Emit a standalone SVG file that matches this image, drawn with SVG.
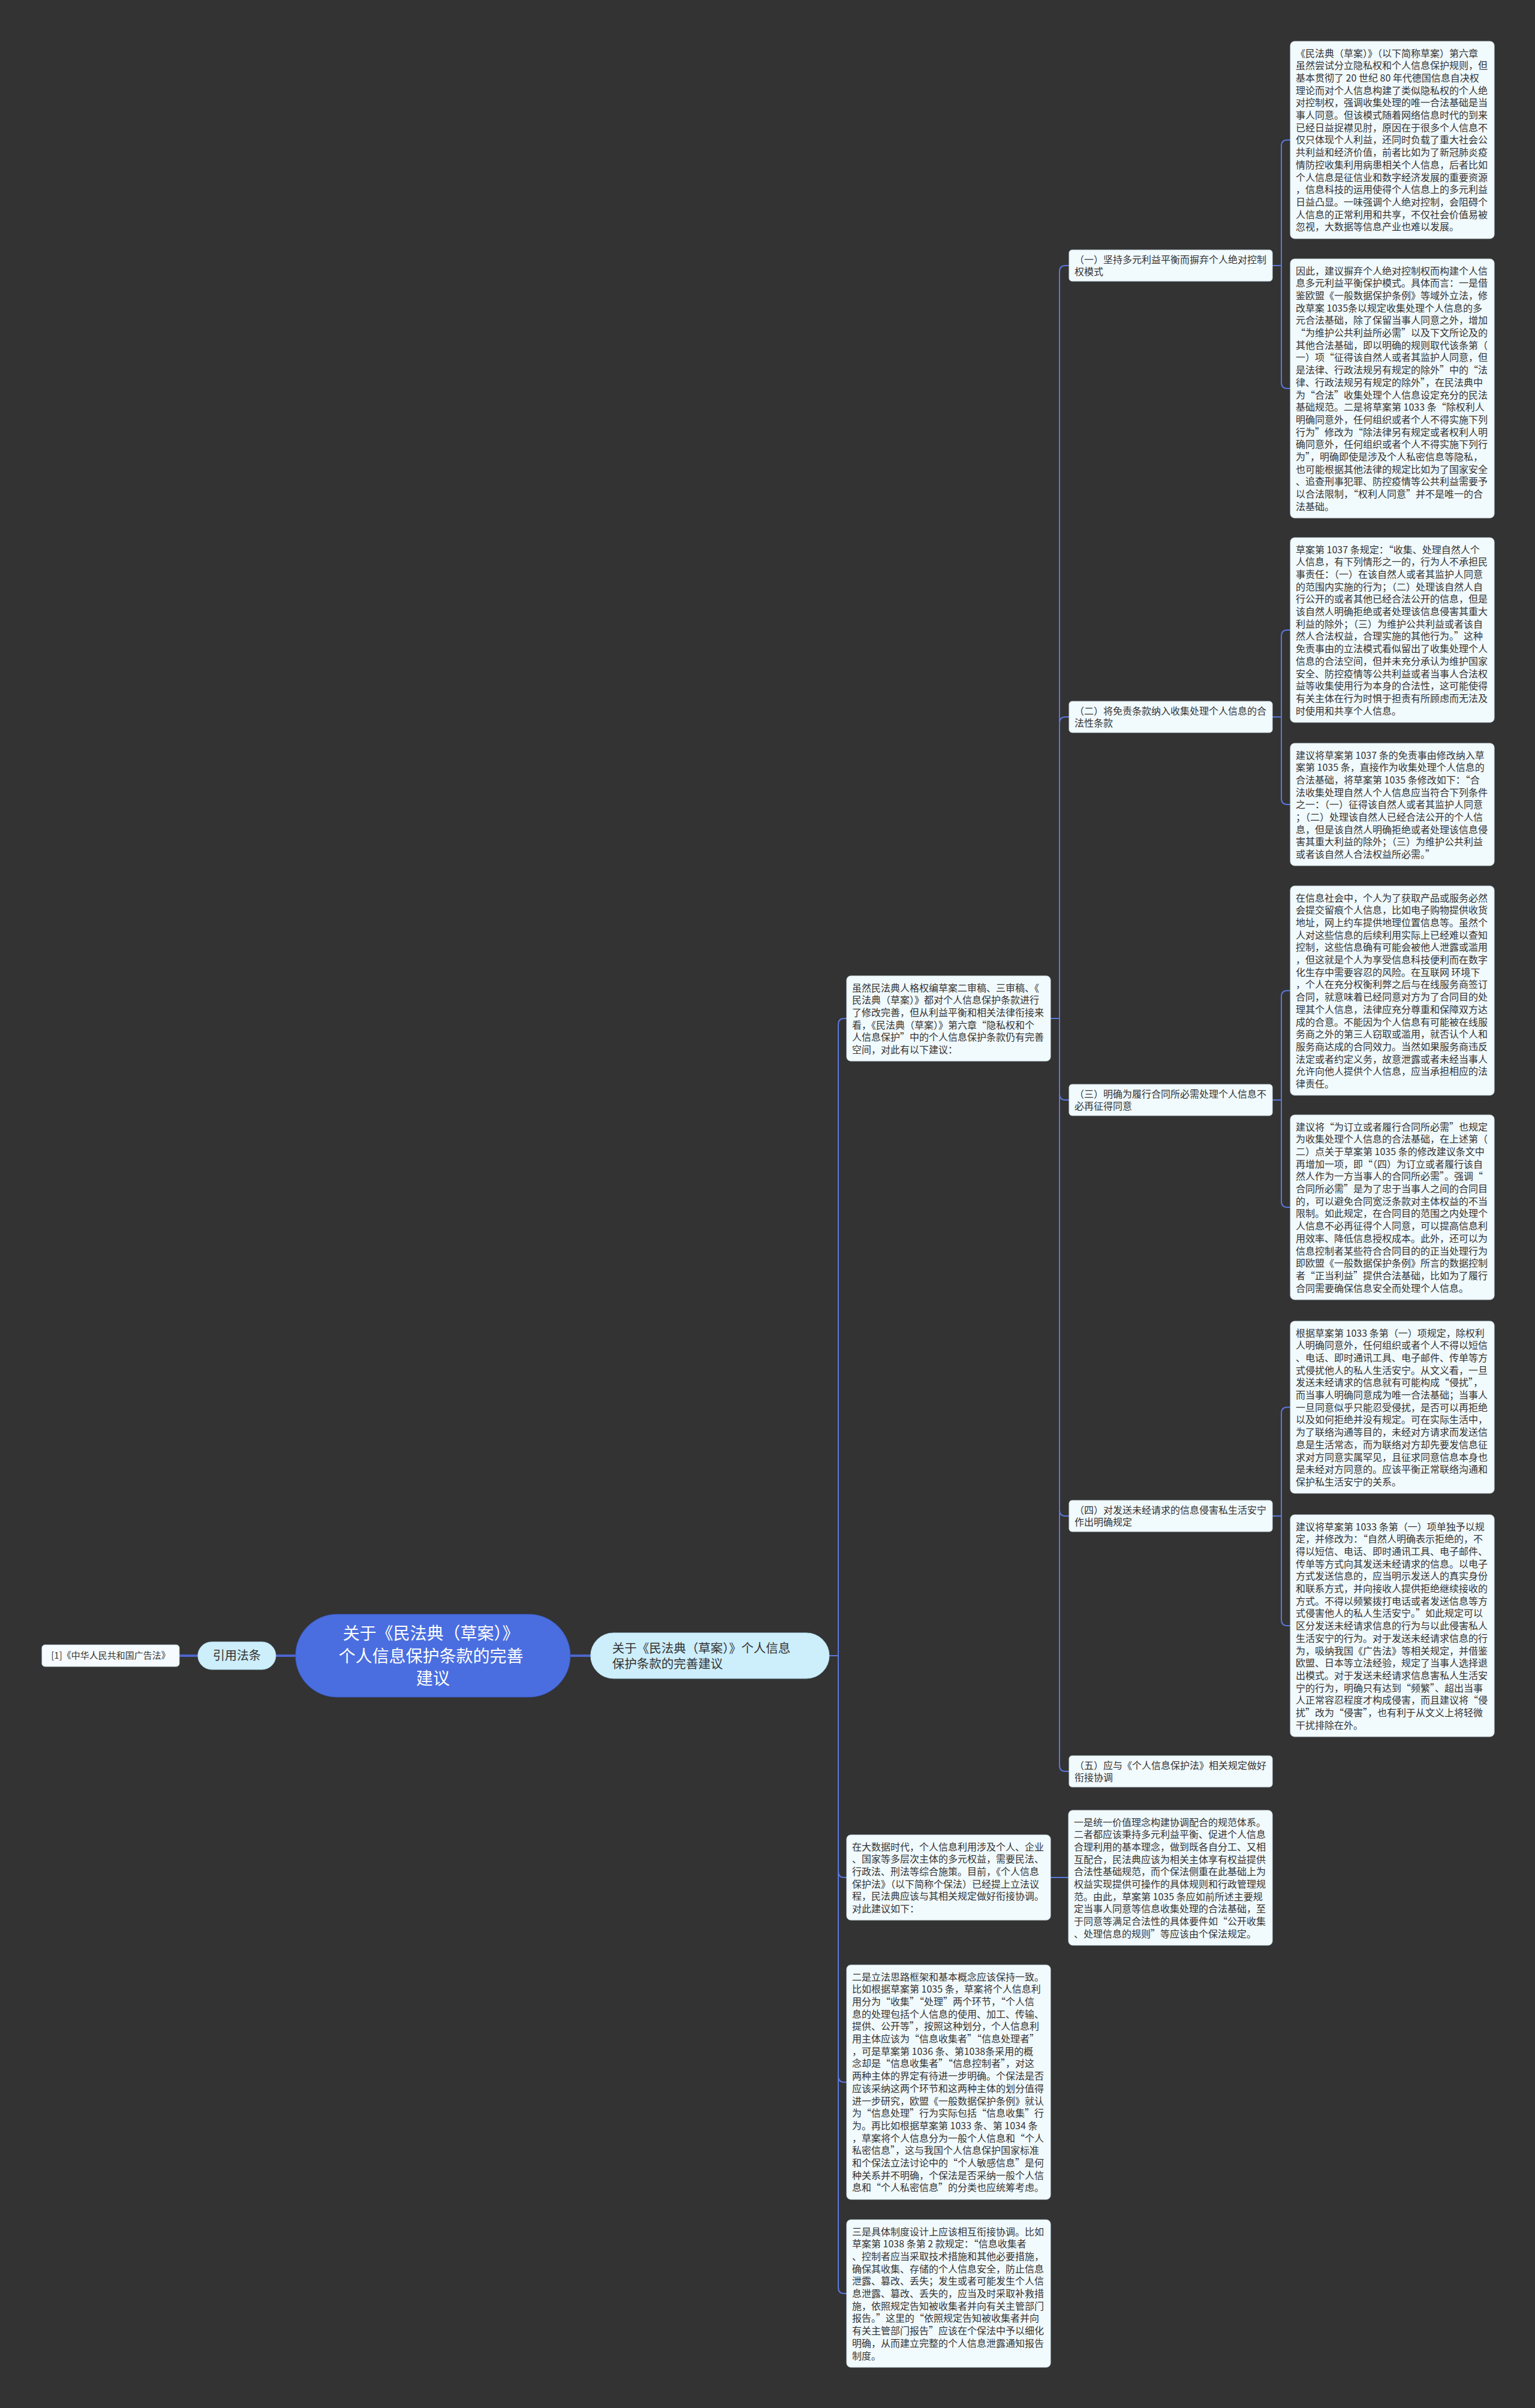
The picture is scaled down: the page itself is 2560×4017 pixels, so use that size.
<svg xmlns="http://www.w3.org/2000/svg" width="2560" height="4017" viewBox="0 0 2560 4017">
<style>
.bg{fill:#333333}
.box{fill:#f1fafd;stroke:#d6e4ea;stroke-width:1}
.t{font-family:"Noto Sans CJK SC","Noto Sans",sans-serif;font-size:16px;fill:#333333}
.conn{fill:none;stroke:#5a78dc;stroke-width:2}
.thick{fill:none;stroke:#4c66cf;stroke-width:4}
.pill{fill:#cdeefb;stroke:#b5dff0;stroke-width:1}
</style>
<rect class="bg" x="0" y="0" width="2560" height="4017"/>
<g id="connectors">
<path class="thick" d="M299 2762 H330"/>
<path class="thick" d="M460 2762 H493"/>
<path class="thick" d="M951 2762 H985"/>
<path class="conn" d="M1383 2762 H1398 V1709 Q1398 1699 1408 1699 H1412"/>
<path class="conn" d="M1383 2762 H1398 V3122 Q1398 3132 1408 3132 H1412"/>
<path class="conn" d="M1383 2762 H1398 V3463.5 Q1398 3473.5 1408 3473.5 H1412"/>
<path class="conn" d="M1383 2762 H1398 V3816 Q1398 3826 1408 3826 H1412"/>
<path class="conn" d="M1752 1699 H1767 V453 Q1767 443 1777 443 H1783"/>
<path class="conn" d="M1752 1699 H1767 V1206 Q1767 1196 1777 1196 H1783"/>
<path class="conn" d="M1752 1699 H1767 V1825 Q1767 1835 1777 1835 H1783"/>
<path class="conn" d="M1752 1699 H1767 V2519 Q1767 2529 1777 2529 H1783"/>
<path class="conn" d="M1752 1699 H1767 V2945 Q1767 2955 1777 2955 H1783"/>
<path class="conn" d="M1752 3132 H1782"/>
<path class="conn" d="M2122 443 H2137 V243.5 Q2137 233.5 2147 233.5 H2152"/>
<path class="conn" d="M2122 443 H2137 V638 Q2137 648 2147 648 H2152"/>
<path class="conn" d="M2122 1196 H2137 V1061 Q2137 1051 2147 1051 H2152"/>
<path class="conn" d="M2122 1196 H2137 V1332 Q2137 1342 2147 1342 H2152"/>
<path class="conn" d="M2122 1835 H2137 V1662.5 Q2137 1652.5 2147 1652.5 H2152"/>
<path class="conn" d="M2122 1835 H2137 V2004 Q2137 2014 2147 2014 H2152"/>
<path class="conn" d="M2122 2529 H2137 V2357.5 Q2137 2347.5 2147 2347.5 H2152"/>
<path class="conn" d="M2122 2529 H2137 V2702 Q2137 2712 2147 2712 H2152"/>
</g>

<g id="root">
<rect x="493" y="2693" width="458" height="138" rx="69" fill="#4a6ee0" stroke="#3d5fd0" stroke-width="1"/>
<text font-family="Noto Sans CJK SC, Noto Sans, sans-serif" font-size="28" fill="#ffffff" text-anchor="middle">
<tspan x="722" y="2735">关于《民法典（草案）》</tspan>
<tspan x="722" y="2773">个人信息保护条款的完善</tspan>
<tspan x="722" y="2810">建议</tspan>
</text>
</g>

<g id="cite">
<rect class="pill" x="330" y="2739" width="130" height="46" rx="23"/>
<text x="395" y="2769" font-family="Noto Sans CJK SC, Noto Sans, sans-serif" font-size="20" fill="#333333" text-anchor="middle">引用法条</text>
</g>

<g id="cite-1">
<rect x="70" y="2744" width="229" height="36" rx="5" fill="#f5fbfe" stroke="#d6e4ea" stroke-width="1"/>
<text x="184.5" y="2767" font-family="Noto Sans CJK SC, Noto Sans, sans-serif" font-size="15" fill="#333333" text-anchor="middle">[1]《中华人民共和国广告法》</text>
</g>

<g id="main-branch">
<rect class="pill" x="985" y="2724" width="398" height="76" rx="38"/>
<text font-family="Noto Sans CJK SC, Noto Sans, sans-serif" font-size="20.5" fill="#333333">
<tspan x="1021" y="2757">关于《民法典（草案）》个人信息</tspan>
<tspan x="1021" y="2783">保护条款的完善建议</tspan>
</text>
</g>

<g id="intro">
<rect class="box" x="1412" y="1628" width="340" height="142" rx="7"/>
<text class="t">
<tspan x="1421" y="1653.5">虽然民法典人格权编草案二审稿、三审稿、《</tspan>
<tspan x="1421" dy="20.7">民法典（草案）》都对个人信息保护条款进行</tspan>
<tspan x="1421" dy="20.7">了修改完善，但从利益平衡和相关法律衔接来</tspan>
<tspan x="1421" dy="20.7">看，《民法典（草案）》第六章“隐私权和个</tspan>
<tspan x="1421" dy="20.7">人信息保护”中的个人信息保护条款仍有完善</tspan>
<tspan x="1421" dy="20.7">空间，对此有以下建议：</tspan>
</text>
</g>

<g id="label-1">
<rect class="box" x="1783" y="417" width="339" height="52" rx="5"/>
<text class="t"><tspan x="1792" y="438.5">（一）坚持多元利益平衡而摒弃个人绝对控制</tspan><tspan x="1792" dy="20.7">权模式</tspan></text>
</g>
<g id="label-2">
<rect class="box" x="1783" y="1170" width="339" height="52" rx="5"/>
<text class="t"><tspan x="1792" y="1191.5">（二）将免责条款纳入收集处理个人信息的合</tspan><tspan x="1792" dy="20.7">法性条款</tspan></text>
</g>
<g id="label-3">
<rect class="box" x="1783" y="1809" width="339" height="52" rx="5"/>
<text class="t"><tspan x="1792" y="1830.5">（三）明确为履行合同所必需处理个人信息不</tspan><tspan x="1792" dy="20.7">必再征得同意</tspan></text>
</g>
<g id="label-4">
<rect class="box" x="1783" y="2503" width="339" height="52" rx="5"/>
<text class="t"><tspan x="1792" y="2524.5">（四）对发送未经请求的信息侵害私生活安宁</tspan><tspan x="1792" dy="20.7">作出明确规定</tspan></text>
</g>
<g id="label-5">
<rect class="box" x="1783" y="2929" width="339" height="52" rx="5"/>
<text class="t"><tspan x="1792" y="2950.5">（五）应与《个人信息保护法》相关规定做好</tspan><tspan x="1792" dy="20.7">衔接协调</tspan></text>
</g>

<g id="text-a">
<rect class="box" x="2152" y="69" width="340" height="329" rx="7"/>
<text class="t">
<tspan x="2161" y="94.5">《民法典（草案）》（以下简称草案）第六章</tspan>
<tspan x="2161" dy="20.7">虽然尝试分立隐私权和个人信息保护规则，但</tspan>
<tspan x="2161" dy="20.7">基本贯彻了 20 世纪 80 年代德国信息自决权</tspan>
<tspan x="2161" dy="20.7">理论而对个人信息构建了类似隐私权的个人绝</tspan>
<tspan x="2161" dy="20.7">对控制权，强调收集处理的唯一合法基础是当</tspan>
<tspan x="2161" dy="20.7">事人同意。但该模式随着网络信息时代的到来</tspan>
<tspan x="2161" dy="20.7">已经日益捉襟见肘，原因在于很多个人信息不</tspan>
<tspan x="2161" dy="20.7">仅只体现个人利益，还同时负载了重大社会公</tspan>
<tspan x="2161" dy="20.7">共利益和经济价值，前者比如为了新冠肺炎疫</tspan>
<tspan x="2161" dy="20.7">情防控收集利用病患相关个人信息，后者比如</tspan>
<tspan x="2161" dy="20.7">个人信息是征信业和数字经济发展的重要资源</tspan>
<tspan x="2161" dy="20.7">，信息科技的运用使得个人信息上的多元利益</tspan>
<tspan x="2161" dy="20.7">日益凸显。一味强调个人绝对控制，会阻碍个</tspan>
<tspan x="2161" dy="20.7">人信息的正常利用和共享，不仅社会价值易被</tspan>
<tspan x="2161" dy="20.7">忽视，大数据等信息产业也难以发展。</tspan>
</text>
</g>

<g id="text-b">
<rect class="box" x="2152" y="432" width="340" height="432" rx="7"/>
<text class="t">
<tspan x="2161" y="457.5">因此，建议摒弃个人绝对控制权而构建个人信</tspan>
<tspan x="2161" dy="20.7">息多元利益平衡保护模式。具体而言：一是借</tspan>
<tspan x="2161" dy="20.7">鉴欧盟《一般数据保护条例》等域外立法，修</tspan>
<tspan x="2161" dy="20.7">改草案 1035条以规定收集处理个人信息的多</tspan>
<tspan x="2161" dy="20.7">元合法基础，除了保留当事人同意之外，增加</tspan>
<tspan x="2161" dy="20.7">“为维护公共利益所必需”以及下文所论及的</tspan>
<tspan x="2161" dy="20.7">其他合法基础，即以明确的规则取代该条第（</tspan>
<tspan x="2161" dy="20.7">一）项“征得该自然人或者其监护人同意，但</tspan>
<tspan x="2161" dy="20.7">是法律、行政法规另有规定的除外”中的“法</tspan>
<tspan x="2161" dy="20.7">律、行政法规另有规定的除外”，在民法典中</tspan>
<tspan x="2161" dy="20.7">为“合法”收集处理个人信息设定充分的民法</tspan>
<tspan x="2161" dy="20.7">基础规范。二是将草案第 1033 条“除权利人</tspan>
<tspan x="2161" dy="20.7">明确同意外，任何组织或者个人不得实施下列</tspan>
<tspan x="2161" dy="20.7">行为”修改为“除法律另有规定或者权利人明</tspan>
<tspan x="2161" dy="20.7">确同意外，任何组织或者个人不得实施下列行</tspan>
<tspan x="2161" dy="20.7">为”，明确即使是涉及个人私密信息等隐私，</tspan>
<tspan x="2161" dy="20.7">也可能根据其他法律的规定比如为了国家安全</tspan>
<tspan x="2161" dy="20.7">、追查刑事犯罪、防控疫情等公共利益需要予</tspan>
<tspan x="2161" dy="20.7">以合法限制，“权利人同意”并不是唯一的合</tspan>
<tspan x="2161" dy="20.7">法基础。</tspan>
</text>
</g>

<g id="text-c">
<rect class="box" x="2152" y="897" width="340" height="308" rx="7"/>
<text class="t">
<tspan x="2161" y="922.5">草案第 1037 条规定：“收集、处理自然人个</tspan>
<tspan x="2161" dy="20.7">人信息，有下列情形之一的，行为人不承担民</tspan>
<tspan x="2161" dy="20.7">事责任：（一）在该自然人或者其监护人同意</tspan>
<tspan x="2161" dy="20.7">的范围内实施的行为；（二）处理该自然人自</tspan>
<tspan x="2161" dy="20.7">行公开的或者其他已经合法公开的信息，但是</tspan>
<tspan x="2161" dy="20.7">该自然人明确拒绝或者处理该信息侵害其重大</tspan>
<tspan x="2161" dy="20.7">利益的除外；（三）为维护公共利益或者该自</tspan>
<tspan x="2161" dy="20.7">然人合法权益，合理实施的其他行为。”这种</tspan>
<tspan x="2161" dy="20.7">免责事由的立法模式看似留出了收集处理个人</tspan>
<tspan x="2161" dy="20.7">信息的合法空间，但并未充分承认为维护国家</tspan>
<tspan x="2161" dy="20.7">安全、防控疫情等公共利益或者当事人合法权</tspan>
<tspan x="2161" dy="20.7">益等收集使用行为本身的合法性，这可能使得</tspan>
<tspan x="2161" dy="20.7">有关主体在行为时惧于担责有所顾虑而无法及</tspan>
<tspan x="2161" dy="20.7">时使用和共享个人信息。</tspan>
</text>
</g>

<g id="text-d">
<rect class="box" x="2152" y="1240" width="340" height="204" rx="7"/>
<text class="t">
<tspan x="2161" y="1265.5">建议将草案第 1037 条的免责事由修改纳入草</tspan>
<tspan x="2161" dy="20.7">案第 1035 条，直接作为收集处理个人信息的</tspan>
<tspan x="2161" dy="20.7">合法基础，将草案第 1035 条修改如下：“合</tspan>
<tspan x="2161" dy="20.7">法收集处理自然人个人信息应当符合下列条件</tspan>
<tspan x="2161" dy="20.7">之一：（一）征得该自然人或者其监护人同意</tspan>
<tspan x="2161" dy="20.7">；（二）处理该自然人已经合法公开的个人信</tspan>
<tspan x="2161" dy="20.7">息，但是该自然人明确拒绝或者处理该信息侵</tspan>
<tspan x="2161" dy="20.7">害其重大利益的除外；（三）为维护公共利益</tspan>
<tspan x="2161" dy="20.7">或者该自然人合法权益所必需。”</tspan>
</text>
</g>

<g id="text-e">
<rect class="box" x="2152" y="1478" width="340" height="349" rx="7"/>
<text class="t">
<tspan x="2161" y="1503.5">在信息社会中，个人为了获取产品或服务必然</tspan>
<tspan x="2161" dy="20.7">会提交留痕个人信息，比如电子购物提供收货</tspan>
<tspan x="2161" dy="20.7">地址，网上约车提供地理位置信息等。虽然个</tspan>
<tspan x="2161" dy="20.7">人对这些信息的后续利用实际上已经难以查知</tspan>
<tspan x="2161" dy="20.7">控制，这些信息确有可能会被他人泄露或滥用</tspan>
<tspan x="2161" dy="20.7">，但这就是个人为享受信息科技便利而在数字</tspan>
<tspan x="2161" dy="20.7">化生存中需要容忍的风险。在互联网 环境下</tspan>
<tspan x="2161" dy="20.7">，个人在充分权衡利弊之后与在线服务商签订</tspan>
<tspan x="2161" dy="20.7">合同，就意味着已经同意对方为了合同目的处</tspan>
<tspan x="2161" dy="20.7">理其个人信息，法律应充分尊重和保障双方达</tspan>
<tspan x="2161" dy="20.7">成的合意。不能因为个人信息有可能被在线服</tspan>
<tspan x="2161" dy="20.7">务商之外的第三人窃取或滥用，就否认个人和</tspan>
<tspan x="2161" dy="20.7">服务商达成的合同效力。当然如果服务商违反</tspan>
<tspan x="2161" dy="20.7">法定或者约定义务，故意泄露或者未经当事人</tspan>
<tspan x="2161" dy="20.7">允许向他人提供个人信息，应当承担相应的法</tspan>
<tspan x="2161" dy="20.7">律责任。</tspan>
</text>
</g>

<g id="text-f">
<rect class="box" x="2152" y="1860" width="340" height="308" rx="7"/>
<text class="t">
<tspan x="2161" y="1885.5">建议将“为订立或者履行合同所必需”也规定</tspan>
<tspan x="2161" dy="20.7">为收集处理个人信息的合法基础，在上述第（</tspan>
<tspan x="2161" dy="20.7">二）点关于草案第 1035 条的修改建议条文中</tspan>
<tspan x="2161" dy="20.7">再增加一项，即“（四）为订立或者履行该自</tspan>
<tspan x="2161" dy="20.7">然人作为一方当事人的合同所必需”。强调“</tspan>
<tspan x="2161" dy="20.7">合同所必需”是为了忠于当事人之间的合同目</tspan>
<tspan x="2161" dy="20.7">的，可以避免合同宽泛条款对主体权益的不当</tspan>
<tspan x="2161" dy="20.7">限制。如此规定，在合同目的范围之内处理个</tspan>
<tspan x="2161" dy="20.7">人信息不必再征得个人同意，可以提高信息利</tspan>
<tspan x="2161" dy="20.7">用效率、降低信息授权成本。此外，还可以为</tspan>
<tspan x="2161" dy="20.7">信息控制者某些符合合同目的的正当处理行为</tspan>
<tspan x="2161" dy="20.7">即欧盟《一般数据保护条例》所言的数据控制</tspan>
<tspan x="2161" dy="20.7">者“正当利益”提供合法基础，比如为了履行</tspan>
<tspan x="2161" dy="20.7">合同需要确保信息安全而处理个人信息。</tspan>
</text>
</g>

<g id="text-g">
<rect class="box" x="2152" y="2204" width="340" height="287" rx="7"/>
<text class="t">
<tspan x="2161" y="2229.5">根据草案第 1033 条第（一）项规定，除权利</tspan>
<tspan x="2161" dy="20.7">人明确同意外，任何组织或者个人不得以短信</tspan>
<tspan x="2161" dy="20.7">、电话、即时通讯工具、电子邮件、传单等方</tspan>
<tspan x="2161" dy="20.7">式侵扰他人的私人生活安宁。从文义看，一旦</tspan>
<tspan x="2161" dy="20.7">发送未经请求的信息就有可能构成“侵扰”，</tspan>
<tspan x="2161" dy="20.7">而当事人明确同意成为唯一合法基础；当事人</tspan>
<tspan x="2161" dy="20.7">一旦同意似乎只能忍受侵扰，是否可以再拒绝</tspan>
<tspan x="2161" dy="20.7">以及如何拒绝并没有规定。可在实际生活中，</tspan>
<tspan x="2161" dy="20.7">为了联络沟通等目的，未经对方请求而发送信</tspan>
<tspan x="2161" dy="20.7">息是生活常态，而为联络对方却先要发信息征</tspan>
<tspan x="2161" dy="20.7">求对方同意实属罕见，且征求同意信息本身也</tspan>
<tspan x="2161" dy="20.7">是未经对方同意的。应该平衡正常联络沟通和</tspan>
<tspan x="2161" dy="20.7">保护私生活安宁的关系。</tspan>
</text>
</g>

<g id="text-h">
<rect class="box" x="2152" y="2527" width="340" height="370" rx="7"/>
<text class="t">
<tspan x="2161" y="2552.5">建议将草案第 1033 条第（一）项单独予以规</tspan>
<tspan x="2161" dy="20.7">定，并修改为：“自然人明确表示拒绝的，不</tspan>
<tspan x="2161" dy="20.7">得以短信、电话、即时通讯工具、电子邮件、</tspan>
<tspan x="2161" dy="20.7">传单等方式向其发送未经请求的信息。以电子</tspan>
<tspan x="2161" dy="20.7">方式发送信息的，应当明示发送人的真实身份</tspan>
<tspan x="2161" dy="20.7">和联系方式，并向接收人提供拒绝继续接收的</tspan>
<tspan x="2161" dy="20.7">方式。不得以频繁拨打电话或者发送信息等方</tspan>
<tspan x="2161" dy="20.7">式侵害他人的私人生活安宁。”如此规定可以</tspan>
<tspan x="2161" dy="20.7">区分发送未经请求信息的行为与以此侵害私人</tspan>
<tspan x="2161" dy="20.7">生活安宁的行为。对于发送未经请求信息的行</tspan>
<tspan x="2161" dy="20.7">为，吸纳我国《广告法》等相关规定，并借鉴</tspan>
<tspan x="2161" dy="20.7">欧盟、日本等立法经验，规定了当事人选择退</tspan>
<tspan x="2161" dy="20.7">出模式。对于发送未经请求信息害私人生活安</tspan>
<tspan x="2161" dy="20.7">宁的行为，明确只有达到“频繁”、超出当事</tspan>
<tspan x="2161" dy="20.7">人正常容忍程度才构成侵害，而且建议将“侵</tspan>
<tspan x="2161" dy="20.7">扰”改为“侵害”，也有利于从文义上将轻微</tspan>
<tspan x="2161" dy="20.7">干扰排除在外。</tspan>
</text>
</g>

<g id="bigdata">
<rect class="box" x="1412" y="3061" width="340" height="142" rx="7"/>
<text class="t">
<tspan x="1421" y="3086.5">在大数据时代，个人信息利用涉及个人、企业</tspan>
<tspan x="1421" dy="20.7">、国家等多层次主体的多元权益，需要民法、</tspan>
<tspan x="1421" dy="20.7">行政法、刑法等综合施策。目前，《个人信息</tspan>
<tspan x="1421" dy="20.7">保护法》（以下简称个保法）已经提上立法议</tspan>
<tspan x="1421" dy="20.7">程，民法典应该与其相关规定做好衔接协调。</tspan>
<tspan x="1421" dy="20.7">对此建议如下：</tspan>
</text>
</g>

<g id="text-j">
<rect class="box" x="1782" y="3020" width="340" height="225" rx="7"/>
<text class="t">
<tspan x="1791" y="3045.5">一是统一价值理念构建协调配合的规范体系。</tspan>
<tspan x="1791" dy="20.7">二者都应该秉持多元利益平衡、促进个人信息</tspan>
<tspan x="1791" dy="20.7">合理利用的基本理念，做到既各自分工、又相</tspan>
<tspan x="1791" dy="20.7">互配合，民法典应该为相关主体享有权益提供</tspan>
<tspan x="1791" dy="20.7">合法性基础规范，而个保法侧重在此基础上为</tspan>
<tspan x="1791" dy="20.7">权益实现提供可操作的具体规则和行政管理规</tspan>
<tspan x="1791" dy="20.7">范。由此，草案第 1035 条应如前所述主要规</tspan>
<tspan x="1791" dy="20.7">定当事人同意等信息收集处理的合法基础，至</tspan>
<tspan x="1791" dy="20.7">于同意等满足合法性的具体要件如“公开收集</tspan>
<tspan x="1791" dy="20.7">、处理信息的规则”等应该由个保法规定。</tspan>
</text>
</g>

<g id="text-k">
<rect class="box" x="1412" y="3278" width="340" height="391" rx="7"/>
<text class="t">
<tspan x="1421" y="3303.5">二是立法思路框架和基本概念应该保持一致。</tspan>
<tspan x="1421" dy="20.7">比如根据草案第 1035 条，草案将个人信息利</tspan>
<tspan x="1421" dy="20.7">用分为“收集”“处理”两个环节，“个人信</tspan>
<tspan x="1421" dy="20.7">息的处理包括个人信息的使用、加工、传输、</tspan>
<tspan x="1421" dy="20.7">提供、公开等”，按照这种划分，个人信息利</tspan>
<tspan x="1421" dy="20.7">用主体应该为“信息收集者”“信息处理者”</tspan>
<tspan x="1421" dy="20.7">，可是草案第 1036 条、第1038条采用的概</tspan>
<tspan x="1421" dy="20.7">念却是“信息收集者”“信息控制者”，对这</tspan>
<tspan x="1421" dy="20.7">两种主体的界定有待进一步明确。个保法是否</tspan>
<tspan x="1421" dy="20.7">应该采纳这两个环节和这两种主体的划分值得</tspan>
<tspan x="1421" dy="20.7">进一步研究，欧盟《一般数据保护条例》就认</tspan>
<tspan x="1421" dy="20.7">为“信息处理”行为实际包括“信息收集”行</tspan>
<tspan x="1421" dy="20.7">为。再比如根据草案第 1033 条、第 1034 条</tspan>
<tspan x="1421" dy="20.7">，草案将个人信息分为一般个人信息和“个人</tspan>
<tspan x="1421" dy="20.7">私密信息”，这与我国个人信息保护国家标准</tspan>
<tspan x="1421" dy="20.7">和个保法立法讨论中的“个人敏感信息”是何</tspan>
<tspan x="1421" dy="20.7">种关系并不明确，个保法是否采纳一般个人信</tspan>
<tspan x="1421" dy="20.7">息和“个人私密信息”的分类也应统筹考虑。</tspan>
</text>
</g>

<g id="text-l">
<rect class="box" x="1412" y="3703" width="340" height="246" rx="7"/>
<text class="t">
<tspan x="1421" y="3728.5">三是具体制度设计上应该相互衔接协调。比如</tspan>
<tspan x="1421" dy="20.7">草案第 1038 条第 2 款规定：“信息收集者</tspan>
<tspan x="1421" dy="20.7">、控制者应当采取技术措施和其他必要措施，</tspan>
<tspan x="1421" dy="20.7">确保其收集、存储的个人信息安全，防止信息</tspan>
<tspan x="1421" dy="20.7">泄露、篡改、丢失；发生或者可能发生个人信</tspan>
<tspan x="1421" dy="20.7">息泄露、篡改、丢失的，应当及时采取补救措</tspan>
<tspan x="1421" dy="20.7">施，依照规定告知被收集者并向有关主管部门</tspan>
<tspan x="1421" dy="20.7">报告。”这里的“依照规定告知被收集者并向</tspan>
<tspan x="1421" dy="20.7">有关主管部门报告”应该在个保法中予以细化</tspan>
<tspan x="1421" dy="20.7">明确，从而建立完整的个人信息泄露通知报告</tspan>
<tspan x="1421" dy="20.7">制度。</tspan>
</text>
</g>
</svg>
